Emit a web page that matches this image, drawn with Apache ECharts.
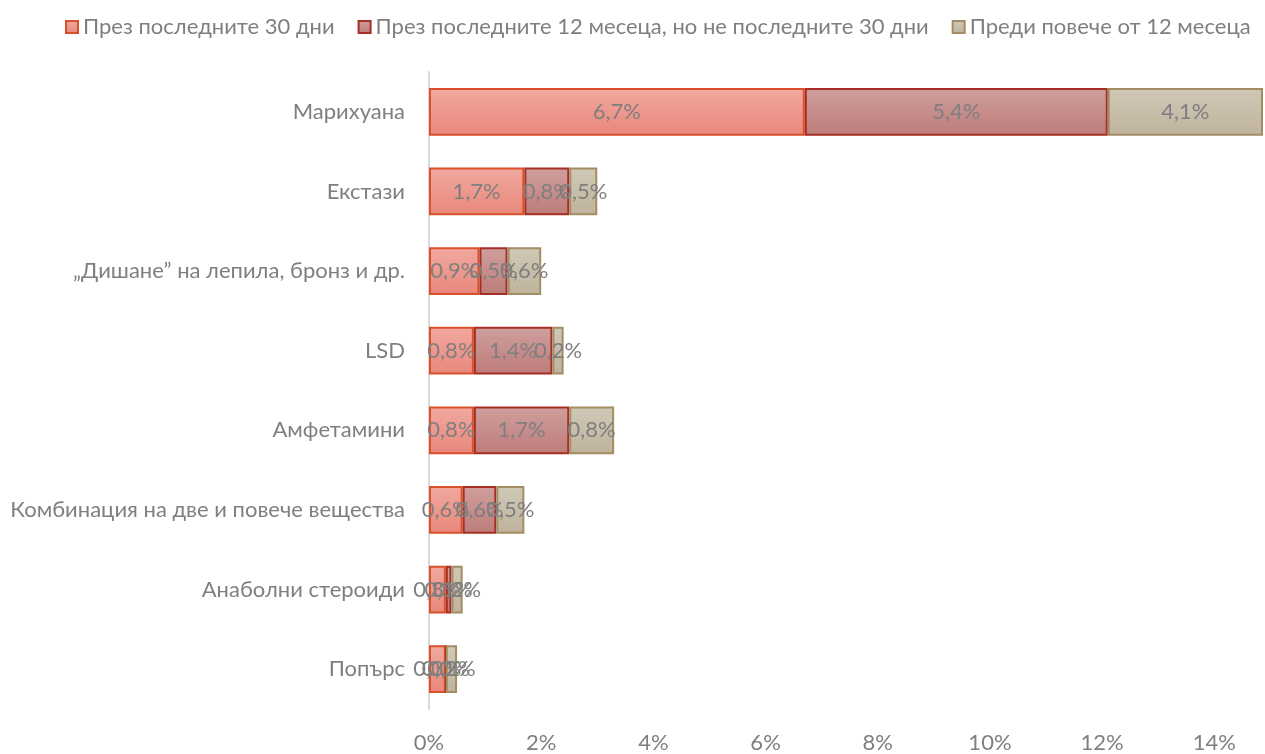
<!DOCTYPE html>
<html>
<head>
<meta charset="utf-8">
<script src="https://cdn.jsdelivr.net/npm/echarts@6/dist/echarts.min.js"></script>
<style>
  html, body { margin: 0; padding: 0; background: #fff; }
  #chart { width: 1265px; height: 754px; }
</style>
</head>
<body>
<div id="chart"></div>
<script>
// категории (отгоре надолу)
var categories = [
    'Марихуана',
    'Екстази',
    '„Дишане” на лепила, бронз и др.',
    'LSD',
    'Амфетамини',
    'Комбинация на две и повече вещества',
    'Анаболни стероиди',
    'Попърс'
];

var seriesNames = [
    'През последните 30 дни',
    'През последните 12 месеца, но не последните 30 дни',
    'Преди повече от 12 месеца'
];

var last30 = [6.7, 1.7, 0.9, 0.8, 0.8, 0.6, 0.3, 0.3];
var last12 = [5.4, 0.8, 0.5, 1.4, 1.7, 0.6, 0.1, 0.0];
var older = [4.1, 0.5, 0.6, 0.2, 0.8, 0.5, 0.2, 0.2];

var xTicks = [0, 2, 4, 6, 8, 10, 12, 14];

var FONT = 'Lato, "Noto Sans", sans-serif';
var GRAY = '#7f7f7f';

function grad(top, bottom) {
    return {
        type: 'linear', x: 0, y: 0, x2: 0, y2: 1,
        colorStops: [{ offset: 0, color: top }, { offset: 1, color: bottom }]
    };
}

var styles = [
    { fill: grad('#f2a9a0', '#e8877b'), border: '#d9502a' },
    { fill: grad('#cf9f9d', '#bd7c7a'), border: '#a52e25' },
    { fill: grad('#d0c8b8', '#bfb39c'), border: '#a38d63' }
];

function makeSeries(idx, data) {
    return {
        name: seriesNames[idx],
        type: 'bar',
        stack: 'total',
        barCategoryGap: '40%',
        clip: true,
        data: data,
        itemStyle: {
            color: styles[idx].fill,
            borderColor: styles[idx].border,
            borderWidth: 2
        },
        label: {
            show: true,
            position: 'inside',
            color: GRAY,
            fontFamily: FONT,
            fontSize: 22,
            formatter: function (p) {
                return p.value.toFixed(1).replace('.', ',') + '%';
            }
        },
        emphasis: { disabled: true }
    };
}

var myChart = echarts.init(document.getElementById('chart'));

var option = {
    animation: false,
    legend: {
        top: 11,
        left: 60,
        icon: 'rect',
        itemWidth: 12,
        itemHeight: 12,
        itemGap: 23,
        textStyle: { color: GRAY, fontFamily: FONT, fontSize: 22 },
        data: seriesNames
    },
    grid: {
        left: 429,
        right: 0,
        top: 72,
        bottom: 42,
        containLabel: false
    },
    xAxis: {
        type: 'value',
        min: 0,
        max: 14.85,
        interval: 2,
        axisLine: { show: false },
        axisTick: { show: false },
        splitLine: { show: false },
        axisLabel: {
            color: GRAY,
            fontFamily: FONT,
            fontSize: 22,
            margin: 23,
            formatter: function (v) {
                return xTicks.indexOf(v) >= 0 ? v + '%' : '';
            }
        }
    },
    yAxis: {
        type: 'category',
        inverse: true,
        data: categories,
        axisLine: { show: true, lineStyle: { color: '#d9d9d9', width: 2 } },
        axisTick: { show: false },
        axisLabel: {
            color: GRAY,
            fontFamily: FONT,
            fontSize: 22,
            margin: 24
        }
    },
    series: [
        makeSeries(0, last30),
        makeSeries(1, last12),
        makeSeries(2, older)
    ]
};

myChart.setOption(option);
</script>
</body>
</html>
